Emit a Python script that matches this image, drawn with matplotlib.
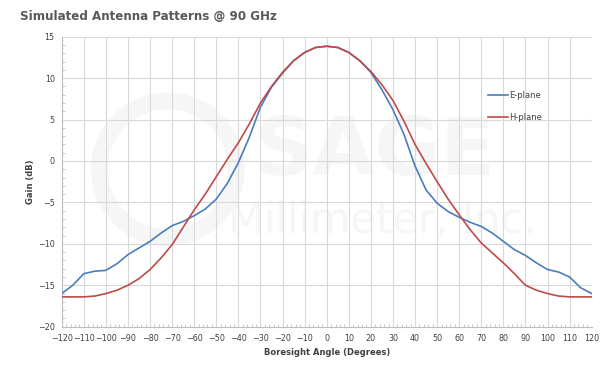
import matplotlib
matplotlib.use("Agg")
import matplotlib.pyplot as plt
from matplotlib.ticker import MultipleLocator
from matplotlib.patches import Ellipse

# Boresight angle (degrees) and simulated gain (dB) for each plane
angle_deg = [-120, -115, -110, -105, -100, -95, -90, -85, -80, -75, -70, -65,
             -60, -55, -50, -45, -40, -35, -30, -25, -20, -15, -10, -5, 0,
             5, 10, 15, 20, 25, 30, 35, 40, 45, 50, 55, 60, 65, 70, 75, 80,
             85, 90, 95, 100, 105, 110, 115, 120]

e_plane_db = [-16.0, -15.0, -13.6, -13.3, -13.2, -12.4, -11.3, -10.5, -9.7,
              -8.7, -7.8, -7.3, -6.6, -5.8, -4.6, -2.7, -0.2, 2.9, 6.5, 8.9,
              10.6, 12.1, 13.1, 13.7, 13.85, 13.7, 13.1, 12.1, 10.7, 8.6,
              6.2, 3.2, -0.6, -3.5, -5.1, -6.1, -6.8, -7.4, -7.9, -8.7, -9.7,
              -10.7, -11.4, -12.3, -13.1, -13.4, -14.0, -15.3, -16.0]

h_plane_db = [-16.4, -16.4, -16.4, -16.3, -16.0, -15.6, -15.0, -14.2, -13.1,
              -11.7, -10.1, -8.0, -5.9, -4.0, -1.9, 0.2, 2.2, 4.5, 7.0, 9.0,
              10.7, 12.1, 13.1, 13.7, 13.85, 13.7, 13.1, 12.1, 10.8, 9.2,
              7.3, 4.8, 2.0, -0.3, -2.5, -4.6, -6.5, -8.3, -9.9, -11.1,
              -12.3, -13.6, -15.0, -15.6, -16.0, -16.3, -16.4, -16.4, -16.4]

x_ticks = list(range(-120, 121, 10))
y_ticks = [-20, -15, -10, -5, 0, 5, 10, 15]

fig = plt.figure(figsize=(6.01, 3.67), dpi=100)
ax = fig.add_axes([0.1027, 0.1098, 0.8818, 0.7902])

# faint company watermark behind the plot (round logo, then the name)
ax.add_patch(Ellipse((-72, -1.0), width=62, height=16.5, facecolor="none",
                     edgecolor="#f6f6f6", lw=12, zorder=0.4))
ax.text(22, 1.0, "SAGE", fontsize=58, fontweight="bold", color="#f6f6f6",
        ha="center", va="center", zorder=0.5)
ax.text(25, -7.2, "Millimeter, Inc.", fontsize=30, color="#f6f6f6",
        ha="center", va="center", zorder=0.5)

ax.plot(angle_deg, e_plane_db, color="#4a7ebb", lw=1.2, label="E-plane",
        zorder=3)
ax.plot(angle_deg, h_plane_db, color="#be4b48", lw=1.2, label="H-plane",
        zorder=3)

ax.set_xlim(-120, 120)
ax.set_ylim(-20, 15)
ax.set_xticks(x_ticks)
ax.set_yticks(y_ticks)
ax.xaxis.set_minor_locator(MultipleLocator(2))
ax.yaxis.set_minor_locator(MultipleLocator(1))
ax.grid(True, which="major", color="#d9d9d9", lw=0.8, zorder=1)
ax.set_axisbelow(True)

for side in ("top", "right"):
    ax.spines[side].set_visible(False)
for side in ("left", "bottom"):
    ax.spines[side].set_color("#bfbfbf")
    ax.spines[side].set_linewidth(0.8)

ax.tick_params(axis="both", which="major", length=0, labelsize=5.8,
               labelcolor="#404040", pad=5)
ax.tick_params(axis="both", which="minor", length=2, direction="in",
               color="#bfbfbf", width=0.6)

ax.set_xlabel("Boresight Angle (Degrees)", fontsize=6, fontweight="bold",
              color="#404040", labelpad=4)
ax.set_ylabel("Gain (dB)", fontsize=6, fontweight="bold", color="#404040",
              labelpad=2)

fig.text(0.033, 0.955, "Simulated Antenna Patterns @ 90 GHz", fontsize=8.6,
         fontweight="bold", color="#595959", ha="left", va="center")

leg = ax.legend(loc="upper left", bbox_to_anchor=(0.79, 0.84), frameon=False,
                fontsize=6, handlelength=2.4, labelspacing=1.6,
                handletextpad=0.2)
for t in leg.get_texts():
    t.set_color("#404040")

fig.savefig("out.png", dpi=100)
